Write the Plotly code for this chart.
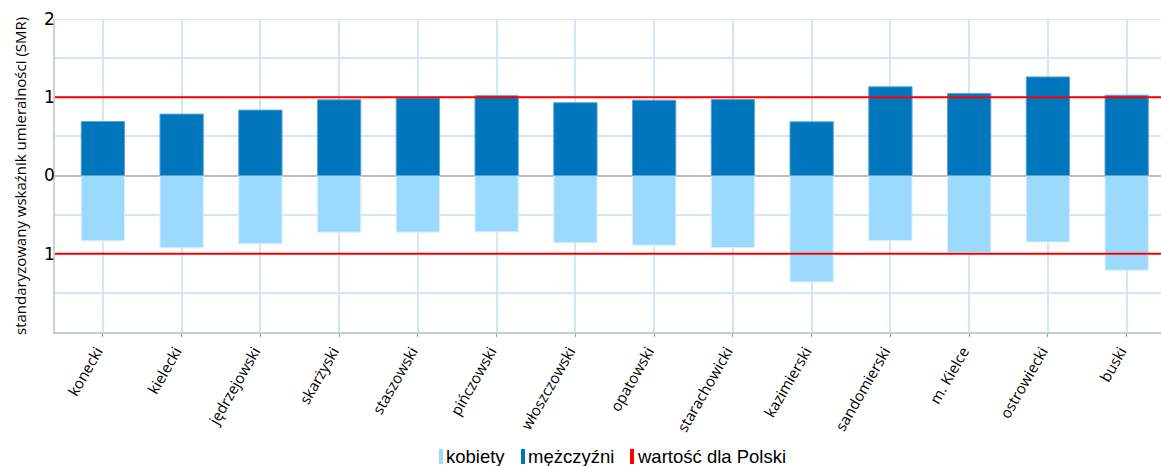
import plotly.graph_objects as go

categories = ["konecki", "kielecki", "jędrzejowski", "skarżyski", "staszowski", "pińczowski",
              "włoszczowski", "opatowski", "starachowicki", "kazimierski", "sandomierski",
              "m. Kielce", "ostrowiecki", "buski"]
mezczyzni = [0.69, 0.785, 0.836, 0.967, 0.99, 1.02, 0.93, 0.962, 0.97, 0.686, 1.133, 1.047, 1.26, 1.026]
kobiety = [0.835, 0.924, 0.873, 0.724, 0.724, 0.72, 0.86, 0.89, 0.92, 1.36, 0.83, 0.985, 0.85, 1.21]
wartosc_polska = 1.0

y_tickvals = [-1.5, -1, -0.5, 0, 0.5, 1, 1.5, 2]
y_ticktext = ["", "1", "", "0", "", "1", "", "2"]

C_K = "#9BDAFD"
C_M = "#0077BD"
C_R = "#FF0000"
GRID = "#CDE9F9"

fig = go.Figure()
fig.add_trace(go.Bar(x=categories, y=[-v for v in kobiety], name="kobiety",
                     marker=dict(color=C_K, line=dict(color="#D8F0FE", width=1)),
                     width=0.55, showlegend=False, hoverinfo="skip"))
fig.add_trace(go.Bar(x=categories, y=mezczyzni, name="mężczyźni",
                     marker=dict(color=C_M, line=dict(color="#5AA5D5", width=1)),
                     width=0.55, showlegend=False, hoverinfo="skip"))

shapes = []
for v in (wartosc_polska, -wartosc_polska):
    shapes.append(dict(type="line", xref="paper", x0=0, x1=1, yref="y", y0=v, y1=v,
                       line=dict(color=C_R, width=2), layer="above"))
shapes.append(dict(type="line", xref="paper", x0=0, x1=1, yref="y", y0=2, y1=2,
                   line=dict(color="#DADADA", width=1.5), layer="below"))

# custom legend
legend_items = [("kobiety", C_K, 439), ("mężczyźni", C_M, 521), ("wartość dla Polski", C_R, 630)]
annotations = []
W, H = 1161, 466
ml, mr, mt, mb = 55, 0, 19, 134
pw, ph = W - ml - mr, H - mt - mb
for label, col, px in legend_items:
    x0 = (px - ml) / pw
    x1 = (px + 4 - ml) / pw
    y0 = (H - mb - 449) / ph
    y1 = (H - mb - 464) / ph
    shapes.append(dict(type="rect", xref="paper", yref="paper", x0=x0, x1=x1, y0=y1, y1=y0,
                       fillcolor=col, line=dict(width=0)))
    annotations.append(dict(xref="paper", yref="paper", x=(px + 5 - ml) / pw, y=(H - mb - 456.5) / ph,
                            text=label, showarrow=False, xanchor="left", yanchor="middle",
                            font=dict(family="Liberation Sans, Arial", size=18.5, color="#000")))

# y-axis title as annotation for exact placement
annotations.append(dict(xref="paper", yref="paper", x=(20 - ml) / pw, y=(H - mb - 176) / ph,
                        text="standaryzowany wskaźnik umieralności (SMR)", textangle=-90,
                        showarrow=False, xanchor="center", yanchor="middle",
                        font=dict(family="Open Sans, Liberation Sans", size=15, color="#000")))

fig.update_layout(
    width=W, height=H,
    margin=dict(l=ml, r=mr, t=mt, b=mb, autoexpand=False),
    paper_bgcolor="white", plot_bgcolor="white",
    barmode="relative", hovermode=False,
    shapes=shapes, annotations=annotations,
    xaxis=dict(range=[-0.608, 13.436], showgrid=True, gridcolor=GRID, gridwidth=1.5,
               tickangle=-60, ticks="outside", ticklen=3, tickcolor="#999",
               showline=True, linecolor="#C0CCD6", linewidth=1.5, automargin=False,
               ticklabelshift=-6,
               tickfont=dict(family="Open Sans, Liberation Sans", size=15, color="#000")),
    yaxis=dict(range=[-2, 2], tickvals=y_tickvals, ticktext=y_ticktext,
               showgrid=True, gridcolor=GRID, gridwidth=1.5,
               zeroline=True, zerolinecolor="#BDBDBD", zerolinewidth=2,
               showline=True, linecolor="#D0D0D0", linewidth=1.5, automargin=False,
               ticks="", ticklabelstandoff=-5,
               tickfont=dict(family="DejaVu Sans", size=17, color="#000")),
    font=dict(family="Open Sans"),
)

fig.write_html("out.html", config={"displayModeBar": False},
               post_script="document.body.style.margin='0';document.body.style.overflow='hidden';")
